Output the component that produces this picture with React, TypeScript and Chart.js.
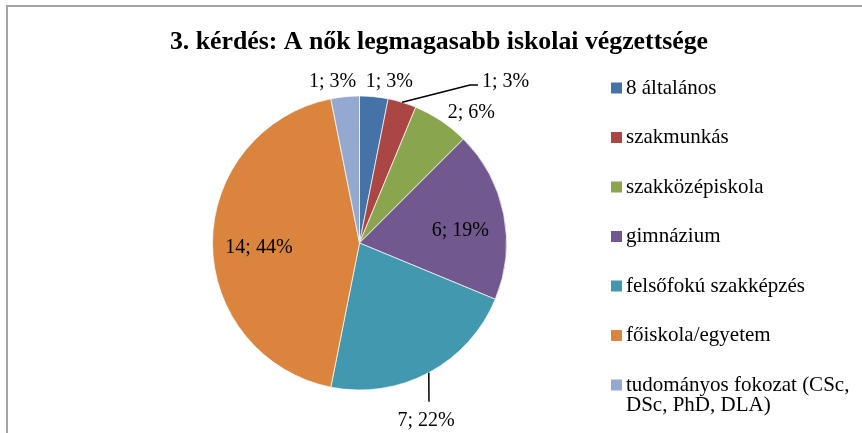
import React, { useEffect, useRef } from "react";
import { Chart, registerables } from "chart.js";

Chart.register(...registerables);

// ---- data ----
const TITLE = "3. kérdés: A nők legmagasabb iskolai végzettsége";
const categories = [
  "8 általános",
  "szakmunkás",
  "szakközépiskola",
  "gimnázium",
  "felsőfokú szakképzés",
  "főiskola/egyetem",
  "tudományos fokozat (CSc, DSc, PhD, DLA)",
];
const legendLines = [
  ["8 általános"],
  ["szakmunkás"],
  ["szakközépiskola"],
  ["gimnázium"],
  ["felsőfokú szakképzés"],
  ["főiskola/egyetem"],
  ["tudományos fokozat (CSc,", "DSc, PhD, DLA)"],
];
const counts = [1, 1, 2, 6, 7, 14, 1];
const colors = ["#4572A7", "#AA4643", "#89A54E", "#71588F", "#4198AF", "#DB843D", "#93A9CF"];

// ---- styling / placement (not data) ----
const SERIF = "'Liberation Serif', 'Times New Roman', serif";
type Placement = {
  k?: number;
  dx: number;
  dy: number;
  leader?: number[][];
  align?: CanvasTextAlign;
};
const labelPlacement: Placement[] = [
  { k: 1.1, dx: 14, dy: 0 },
  { leader: [[67.8, -17.3], [75.8, -17.3]], dx: 79.8, dy: -20.8, align: "left" },
  { k: 1.1, dx: 22, dy: 4 },
  { k: 0.7, dx: 0, dy: 8 },
  { leader: [[0.2, 29]], dx: -2.8, dy: 47.8, align: "center" },
  { k: 0.684, dx: 0, dy: 4.5 },
  { k: 1.1, dx: -11, dy: 0 },
];

const framePlugin = {
  id: "frame",
  beforeDraw(chart: any) {
    const ctx = chart.ctx;
    ctx.save();
    ctx.fillStyle = "#ffffff";
    ctx.fillRect(0, 0, chart.width, chart.height);
    ctx.fillStyle = "#a3a3a3";
    ctx.fillRect(6, 5, 2, chart.height);
    ctx.fillRect(6, 5, chart.width, 2);
    ctx.restore();
  },
};

const decorPlugin = {
  id: "decor",
  afterDraw(chart: any) {
    const ctx = chart.ctx;
    ctx.save();
    // title
    ctx.fillStyle = "#000000";
    ctx.font = `bold 25.8px ${SERIF}`;
    ctx.textAlign = "center";
    ctx.textBaseline = "alphabetic";
    ctx.fillText(TITLE, 439, 49);

    // data labels
    const meta = chart.getDatasetMeta(0);
    const data = chart.data.datasets[0].data as number[];
    const total = data.reduce((a, b) => a + b, 0);
    ctx.font = `20px ${SERIF}`;
    ctx.textBaseline = "middle";
    meta.data.forEach((arc: any, i: number) => {
      const p = arc.getProps(["x", "y", "startAngle", "endAngle", "outerRadius"], true);
      const mid = (p.startAngle + p.endAngle) / 2;
      const cos = Math.cos(mid);
      const sin = Math.sin(mid);
      const pl = labelPlacement[i];
      const text = `${data[i]}; ${Math.round((data[i] / total) * 100)}%`;
      let tx: number, ty: number;
      if (pl.leader) {
        const ex = p.x + cos * p.outerRadius;
        const ey = p.y + sin * p.outerRadius;
        ctx.strokeStyle = "#000000";
        ctx.lineWidth = 1.5;
        ctx.beginPath();
        ctx.moveTo(ex, ey);
        pl.leader.forEach(([lx, ly]) => ctx.lineTo(ex + lx, ey + ly));
        ctx.stroke();
        tx = ex + pl.dx;
        ty = ey + pl.dy;
      } else {
        const d = p.outerRadius * (pl.k as number);
        tx = p.x + cos * d + pl.dx;
        ty = p.y + sin * d + pl.dy;
      }
      ctx.textAlign = pl.align || "center";
      ctx.fillStyle = "#000000";
      ctx.fillText(text, tx, ty);
    });

    // legend
    const bg = chart.data.datasets[0].backgroundColor as string[];
    ctx.font = `21px ${SERIF}`;
    ctx.textAlign = "left";
    ctx.textBaseline = "middle";
    legendLines.forEach((lines, i) => {
      const cy = 88 + i * 49.5;
      ctx.fillStyle = bg[i];
      ctx.fillRect(611, cy - 5.5, 11, 11);
      ctx.fillStyle = "#000000";
      lines.forEach((ln, j) => ctx.fillText(ln, 626, cy + j * 20.5));
    });
    ctx.restore();
  },
};

export default function App() {
  const ref = useRef<HTMLCanvasElement | null>(null);
  useEffect(() => {
    if (!ref.current) return;
    const chart = new Chart(ref.current, {
      type: "pie",
      data: {
        labels: categories,
        datasets: [
          {
            data: counts,
            backgroundColor: colors,
            borderColor: "rgba(255,255,255,0.7)",
            borderWidth: 1,
            radius: 147,
          } as any,
        ],
      },
      options: {
        responsive: false,
        animation: false,
        devicePixelRatio: 1,
        layout: { padding: { left: 212.5, right: 355.5, top: 96, bottom: 43 } },
        plugins: {
          legend: { display: false },
          title: { display: false },
          tooltip: { enabled: false },
        },
      } as any,
      plugins: [framePlugin, decorPlugin],
    });
    return () => chart.destroy();
  }, []);
  return (
    <div style={{ position: "absolute", left: 0, top: 0, width: 862, height: 433 }}>
      <canvas ref={ref} width={862} height={433} style={{ display: "block" }} />
    </div>
  );
}
